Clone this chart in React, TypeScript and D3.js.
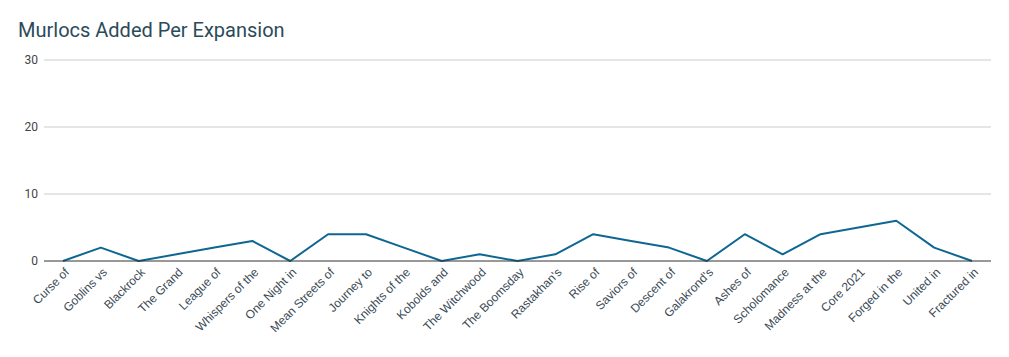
import React from "react";
import * as d3 from "d3";

const categories = [
  "Curse of", "Goblins vs", "Blackrock", "The Grand", "League of", "Whispers of the",
  "One Night in", "Mean Streets of", "Journey to", "Knights of the", "Kobolds and",
  "The Witchwood", "The Boomsday", "Rastakhan's", "Rise of", "Saviors of", "Descent of",
  "Galakrond's", "Ashes of", "Scholomance", "Madness at the", "Core 2021", "Forged in the",
  "United in", "Fractured in",
];
const murlocs = [0, 2, 0, 1, 2, 3, 0, 4, 4, 2, 0, 1, 0, 1, 4, 3, 2, 0, 4, 1, 4, 5, 6, 2, 0];
const yTicks = [0, 10, 20, 30];

export default function App() {
  const W = 1009, H = 357;
  const left = 44, right = 991, top = 60, bottom = 261;
  const x = d3.scalePoint<string>().domain(categories).range([left, right]).padding(0.5);
  const y = d3.scaleLinear().domain([0, 30]).range([bottom, top]);
  const line = d3.line<number>().x((_, i) => x(categories[i])!).y((d) => y(d));
  const font = "Roboto, Arial, sans-serif";
  const lfont = "'Liberation Sans', Arial, sans-serif";
  return (
    <svg width={W} height={H} style={{ position: "absolute", left: 0, top: 0, background: "#fff" }}>
      <rect width={W} height={H} fill="#fff" />
      <text x={18} y={37} fontFamily={font} fontSize={20} fill="#2b4b5a">Murlocs Added Per Expansion</text>
      {yTicks.map((t) => (
        <g key={t}>
          {t !== 0 && <line x1={left} x2={right} y1={y(t)} y2={y(t)} stroke="#ccc" strokeWidth={1} />}
          <text x={38} y={y(t) + 4} textAnchor="end" fontFamily={font} fontSize={12} fill="#444">{t}</text>
        </g>
      ))}
      <path d={line(murlocs)!} fill="none" stroke="#0e6793" strokeWidth={2} strokeLinejoin="round" />
      <line x1={left} x2={right} y1={y(0)} y2={y(0)} stroke="#333" strokeWidth={1} />
      {categories.map((c) => (
        <text key={c} transform={`translate(${x(c)! + 7},${273}) rotate(-45)`} textAnchor="end"
          fontFamily={lfont} fontSize={12} fill="#3a4a55">{c}</text>
      ))}
    </svg>
  );
}
